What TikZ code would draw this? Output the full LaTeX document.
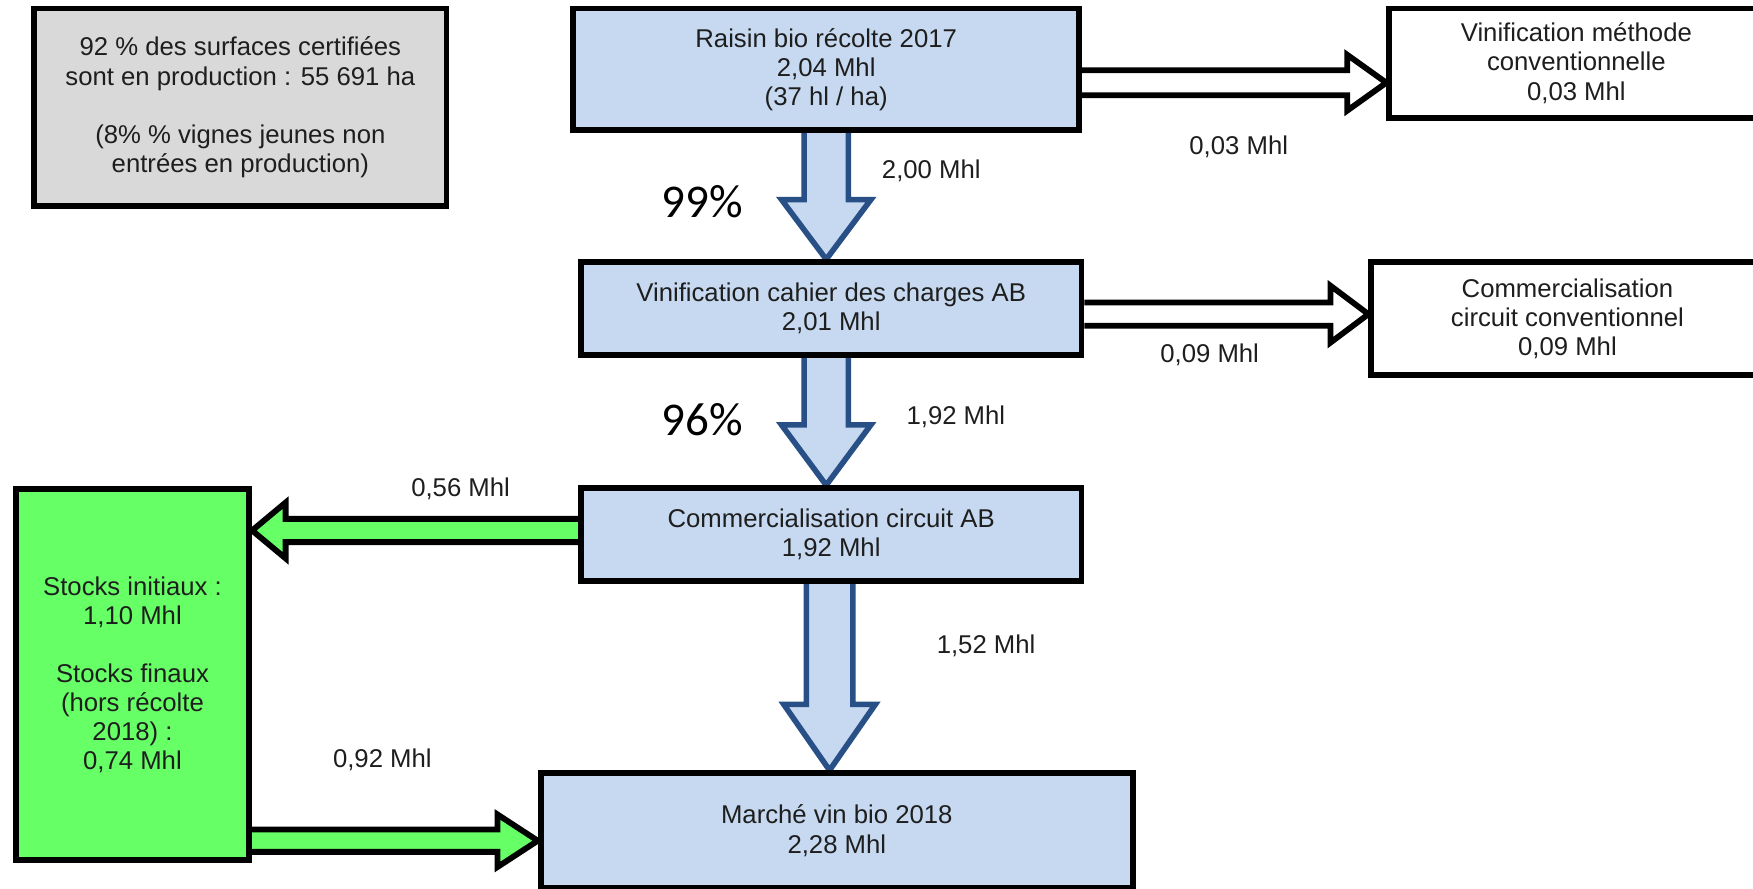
\documentclass[tikz,border=0pt]{standalone}
\usepackage{fontspec}
\setmainfont{Liberation Sans}
\newfontfamily\pctfont{Carlito}
\usetikzlibrary{calc,backgrounds}

\definecolor{boxblue}{RGB}{198,217,240}
\definecolor{arrowblue}{RGB}{40,80,135}
\definecolor{stockgreen}{RGB}{102,255,102}
\definecolor{notegray}{RGB}{217,217,217}
\definecolor{textgray}{RGB}{30,30,30}

% block arrow: style, from, to, shaft half width, head half width, head length
\newcommand{\fatarrow}[6]{%
  \coordinate (hb) at ($(#3)!#6!(#2)$);
  \draw[#1] ($(#2)!#4!90:(#3)$) -- ($(hb)!#4!90:(#3)$) -- ($(hb)!#5!90:(#3)$) -- (#3)
    -- ($(hb)!#5!-90:(#3)$) -- ($(hb)!#4!-90:(#3)$) -- ($(#2)!#4!-90:(#3)$);
}

\begin{document}
\begin{tikzpicture}[x=0.5pt, y=-0.5pt,
    box/.style={draw, line width=2.6pt, align=center, inner sep=0pt,
      font=\fontsize{11.5}{13}\selectfont, text=textgray},
    flow/.style={font=\fontsize{11.5}{13}\selectfont, text=textgray},
    pct/.style={font=\pctfont\fontsize{21}{24}\selectfont},
    bluearrow/.style={draw=arrowblue, fill=boxblue, line width=2.5pt},
    whitearrow/.style={draw=black, fill=white, line width=2.6pt},
    greenarrow/.style={draw=black, fill=stockgreen, line width=2.6pt}]

    \useasboundingbox (0,0) rectangle (1568,795);
    \clip (0,0) rectangle (1568,795);

    \node[box, fill=notegray, minimum width=184.4pt, minimum height=88.4pt] at (215,96) (note)
      {92 \% des surfaces certifiées\\sont en production : 55 691 ha\\[13pt](8\% \% vignes jeunes non\\entrées en production)};
    \node[box, fill=boxblue, minimum width=226.4pt, minimum height=54.4pt] at (739,62) (raisin)
      {Raisin bio récolte 2017\\2,04 Mhl\\(37 hl / ha)};
    \node[box, fill=white, minimum width=167.4pt, minimum height=48.9pt] at (1410,56.5) (vinmeth)
      {Vinification méthode\\conventionnelle\\0,03 Mhl};
    \node[box, fill=boxblue, minimum width=223.9pt, minimum height=41.4pt] at (743.5,276) (vinab)
      {Vinification cahier des charges AB\\2,01 Mhl};
    \node[box, fill=white, minimum width=175.4pt, minimum height=50.4pt] at (1402,285) (commconv)
      {Commercialisation\\circuit conventionnel\\0,09 Mhl};
    \node[box, fill=boxblue, minimum width=223.9pt, minimum height=41.4pt] at (743.5,478) (commab)
      {Commercialisation circuit AB\\1,92 Mhl};
    \node[box, fill=stockgreen, minimum width=104.4pt, minimum height=165.9pt] at (118.5,603.5) (stocks)
      {Stocks initiaux :\\1,10 Mhl\\[13pt]Stocks finaux\\(hors récolte\\2018) :\\0,74 Mhl};
    \node[box, fill=boxblue, minimum width=264.9pt, minimum height=51.4pt] at (748.5,743) (marche)
      {Marché vin bio 2018\\2,28 Mhl};

    \coordinate (r1) at ($(raisin.east)+(0,12)$);
    \coordinate (r2) at (r1 -| vinmeth.west);
    \coordinate (v1) at ($(vinab.east)+(0,5)$);
    \coordinate (v2) at (v1 -| commconv.west);
    \coordinate (d1) at (raisin.south);
    \coordinate (d2) at (d1 |- vinab.north);
    \coordinate (d3) at (d1 |- vinab.south);
    \coordinate (d4) at (d1 |- commab.north);
    \coordinate (d5) at ($(commab.south)+(-1.5,0)$);
    \coordinate (d6) at (d5 |- marche.north);
    \coordinate (g1) at ($(commab.west)+(0,-3.5)$);
    \coordinate (g2) at (g1 -| stocks.east);
    \coordinate (g3) at (stocks.east |- 0,752);
    \coordinate (g4) at (g3 -| marche.west);

    \begin{scope}[on background layer]
      \fatarrow{whitearrow}{r1}{r2}{5.6pt}{12.5pt}{17.5pt}
      \fatarrow{whitearrow}{v1}{v2}{5.2pt}{12.75pt}{17pt}
      \fatarrow{bluearrow}{d1}{d2}{9.9pt}{20pt}{26.75pt}
      \fatarrow{bluearrow}{d3}{d4}{9.9pt}{20pt}{27pt}
      \fatarrow{bluearrow}{d5}{d6}{10.4pt}{20.5pt}{29.5pt}
      \fatarrow{greenarrow}{g1}{g2}{5.2pt}{12.5pt}{15pt}
      \fatarrow{greenarrow}{g3}{g4}{5pt}{11.75pt}{18pt}
    \end{scope}

    \node[flow] at (1108,131) (l003) {0,03 Mhl};
    \node[flow] at (833,153) (l200) {2,00 Mhl};
    \node[pct] at (628,180) (p99) {99\%};
    \node[flow] at (1082,317) (l009) {0,09 Mhl};
    \node[pct] at (628,375) (p96) {96\%};
    \node[flow] at (855,373) (l192) {1,92 Mhl};
    \node[flow] at (412,437) (l056) {0,56 Mhl};
    \node[flow] at (882,578) (l152) {1,52 Mhl};
    \node[flow] at (342,680) (l092) {0,92 Mhl};
\end{tikzpicture}
\end{document}
